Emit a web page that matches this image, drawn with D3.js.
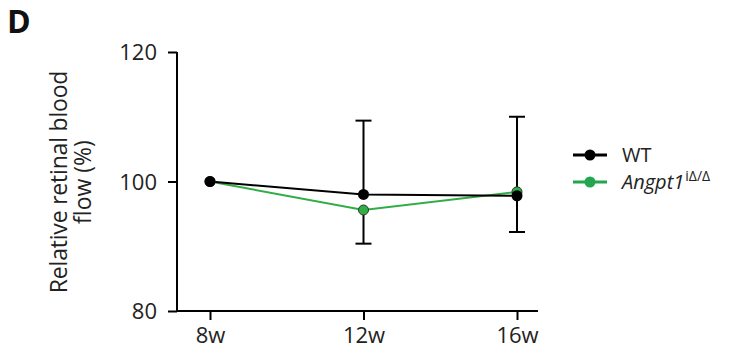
<!DOCTYPE html>
<html>
<head>
<meta charset="utf-8">
<script src="https://cdn.jsdelivr.net/npm/d3@7"></script>
<style>
  body { margin: 0; background: #fff; }
  text { font-family: "Open Sans", sans-serif; }
</style>
</head>
<body>
<div id="chart"></div>
<script>
// data
const weeks = ['8w', '12w', '16w'];
const wtMean = [100, 98.0, 97.8];
const wtUpper = [null, 109.4, 110.0];
const koMean = [100, 95.6, 98.4];
const koLower = [null, 90.4, 92.2];
const yTicks = [80, 100, 120];

const width = 738, height = 354;
const green = '#2fae45';

const svg = d3.select('#chart').append('svg')
  .attr('width', width)
  .attr('height', height);

const xScale = d3.scalePoint()
  .domain(weeks)
  .range([210, 517]);

const yScale = d3.scaleLinear()
  .domain([80, 120])
  .range([311, 52]);

// y axis
const yAxis = d3.axisLeft(yScale).tickValues(yTicks).tickSize(9).tickPadding(11);
const yg = svg.append('g')
  .attr('transform', 'translate(177,0)')
  .call(yAxis);
yg.select('.domain').attr('d', `M0,${yScale(120)}V${yScale(80)}`);

// x axis
const xAxis = d3.axisBottom(xScale).tickSize(9).tickPadding(6);
const xg = svg.append('g')
  .attr('transform', `translate(0,${yScale(80)})`)
  .call(xAxis);
xg.select('.domain').attr('d', 'M177,0H538');

svg.selectAll('.domain, .tick line')
  .attr('stroke', '#000')
  .attr('stroke-width', 2);
svg.selectAll('.tick text')
  .attr('font-size', 22)
  .attr('fill', '#222');
yg.selectAll('.tick text').attr('dy', '0.36em');
xg.selectAll('.tick text').attr('dy', '0.75em');

// y label
const ylab = svg.append('text')
  .attr('transform', 'translate(59,182) rotate(-90)')
  .attr('text-anchor', 'middle')
  .attr('font-size', 23)
  .attr('fill', '#222');
ylab.append('tspan').attr('x', 0).attr('dy', '0.35em').attr('letter-spacing', -0.2).text('Relative retinal blood');
ylab.append('tspan').attr('x', 0).attr('dy', '1.05em').text('flow (%)');

// panel letter
svg.append('text')
  .attr('x', 7).attr('y', 33)
  .attr('font-size', 32)
  .attr('font-weight', 'bold')
  .attr('fill', '#111')
  .text('D');

// error bars
const capW = 8;
function errBar(vals, means) {
  vals.forEach((v, i) => {
    if (v === null) return;
    const x = xScale(weeks[i]);
    svg.append('line')
      .attr('x1', x).attr('x2', x)
      .attr('y1', yScale(means[i])).attr('y2', yScale(v))
      .attr('stroke', '#000').attr('stroke-width', 2);
    svg.append('line')
      .attr('x1', x - capW).attr('x2', x + capW)
      .attr('y1', yScale(v)).attr('y2', yScale(v))
      .attr('stroke', '#000').attr('stroke-width', 2);
  });
}
errBar(wtUpper, wtMean);
errBar(koLower, koMean);

const line = d3.line()
  .x((d, i) => xScale(weeks[i]))
  .y(d => yScale(d));

// green series first, black on top
svg.append('path')
  .datum(koMean)
  .attr('d', line)
  .attr('fill', 'none')
  .attr('stroke', green)
  .attr('stroke-width', 2);
svg.append('path')
  .datum(wtMean)
  .attr('d', line)
  .attr('fill', 'none')
  .attr('stroke', '#000')
  .attr('stroke-width', 2);

svg.selectAll('.ko-dot')
  .data(koMean)
  .join('circle')
  .attr('class', 'ko-dot')
  .attr('cx', (d, i) => xScale(weeks[i]))
  .attr('cy', d => yScale(d))
  .attr('r', 5)
  .attr('fill', green)
  .attr('stroke', '#333')
  .attr('stroke-width', 1);

svg.selectAll('.wt-dot')
  .data(wtMean)
  .join('circle')
  .attr('class', 'wt-dot')
  .attr('cx', (d, i) => xScale(weeks[i]))
  .attr('cy', d => yScale(d))
  .attr('r', 5.5)
  .attr('fill', '#000');

// legend
const legend = svg.append('g').attr('transform', 'translate(573,0)');
const items = [
  { color: '#000', y: 155 },
  { color: '#22a650', y: 182 }
];
items.forEach(it => {
  legend.append('line')
    .attr('x1', 0).attr('x2', 34)
    .attr('y1', it.y).attr('y2', it.y)
    .attr('stroke', it.color).attr('stroke-width', 3);
  legend.append('circle')
    .attr('cx', 17).attr('cy', it.y).attr('r', 5.5)
    .attr('fill', it.color);
});
legend.append('text')
  .attr('x', 49).attr('y', 155).attr('dy', '0.35em')
  .attr('font-size', 20).attr('fill', '#222')
  .text('WT');
const t2 = legend.append('text')
  .attr('x', 49).attr('y', 182).attr('dy', '0.35em')
  .attr('font-size', 20).attr('fill', '#222');
t2.append('tspan').attr('font-style', 'italic').text('Angpt1');
t2.append('tspan').attr('font-size', 14).attr('dx', 1).attr('dy', '-0.6em').text('iΔ/Δ');
</script>
</body>
</html>
